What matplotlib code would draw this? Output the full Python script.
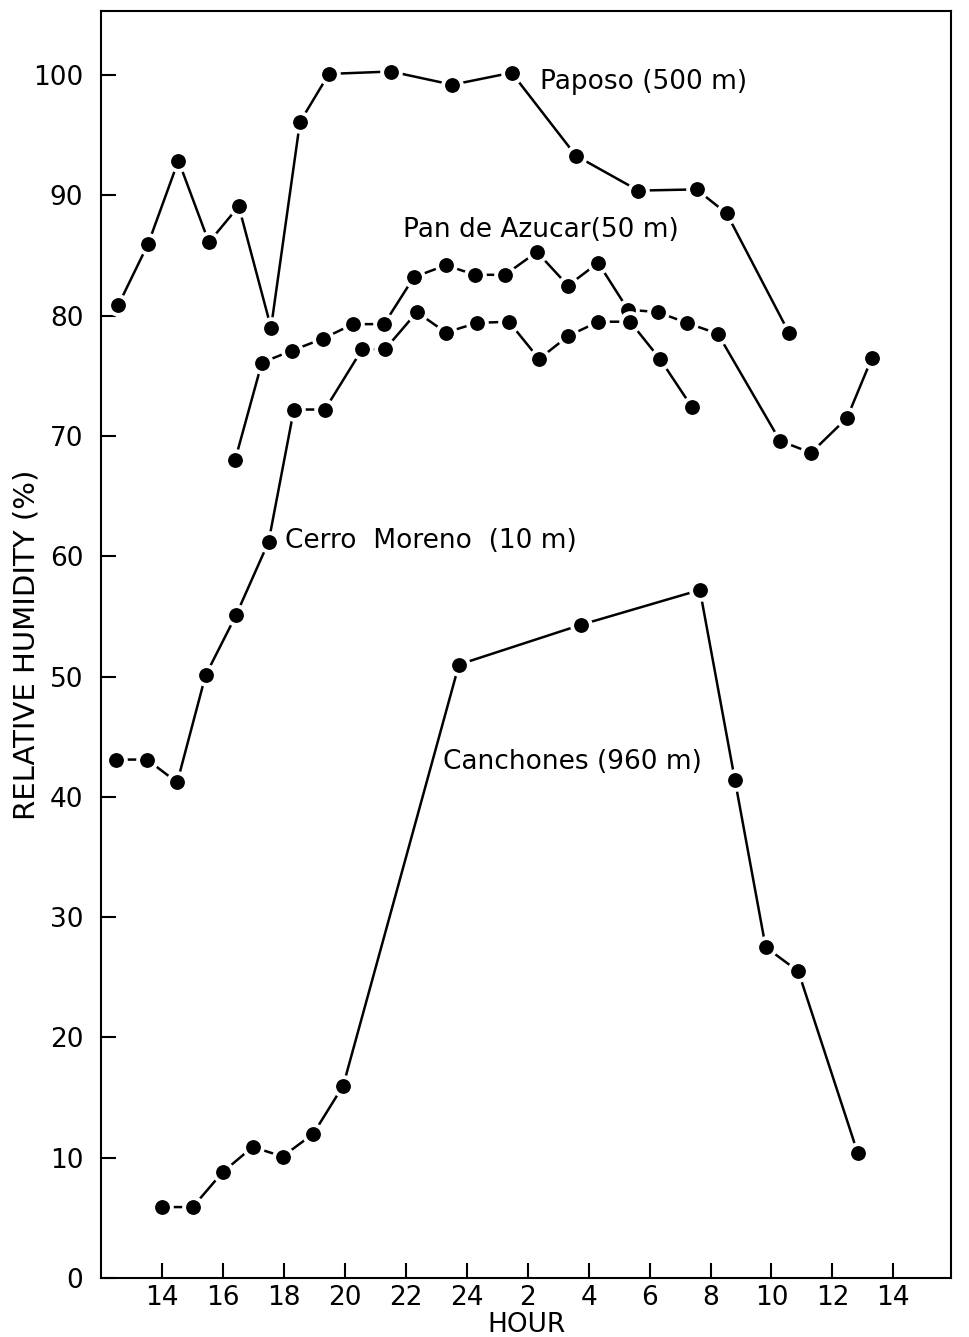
import matplotlib
matplotlib.use("Agg")
import matplotlib.pyplot as plt

# ── Data (hour counted continuously: 24 = midnight, 26 = 2 h next day) ──
paposo_hour = [12.56, 13.54, 14.53, 15.53, 16.51, 17.57, 18.52, 19.47, 21.51,
               23.52, 25.47, 27.58, 29.63, 31.54, 32.53, 34.57]
paposo_rh = [80.9, 86.0, 92.9, 86.1, 89.1, 79.0, 96.1, 100.1, 100.3,
             99.2, 100.2, 93.3, 90.4, 90.5, 88.5, 78.6]

pan_hour = [16.39, 17.27, 18.26, 19.28, 20.26, 21.28, 22.26, 23.31, 24.26, 25.25,
            26.30, 27.32, 28.31, 29.29, 30.27, 31.22, 32.24, 34.28, 35.30, 36.48, 37.30]
pan_rh = [68.0, 76.1, 77.1, 78.1, 79.3, 79.3, 83.2, 84.2, 83.4, 83.4,
          85.3, 82.5, 84.4, 80.5, 80.3, 79.4, 78.5, 69.6, 68.6, 71.5, 76.5]

cerro_hour = [12.47, 13.50, 14.49, 15.42, 16.42, 17.49, 18.32, 19.34, 20.56, 21.31,
              22.36, 23.31, 24.33, 25.38, 26.37, 27.32, 28.31, 29.36, 30.34, 31.39]
cerro_rh = [43.1, 43.1, 41.2, 50.1, 55.1, 61.2, 72.2, 72.2, 77.2, 77.2,
            80.3, 78.6, 79.4, 79.5, 76.4, 78.3, 79.5, 79.5, 76.4, 72.4]

canch_hour = [14.0, 15.0, 15.98, 16.97, 17.95, 18.96, 19.94, 23.74, 27.74,
              31.65, 32.80, 33.81, 34.88, 36.83]
canch_rh = [5.9, 5.9, 8.8, 10.9, 10.1, 12.0, 16.0, 51.0, 54.3,
            57.2, 41.4, 27.5, 25.5, 10.4]

tick_hours = [14, 16, 18, 20, 22, 24, 26, 28, 30, 32, 34, 36, 38]
tick_labels = ["14", "16", "18", "20", "22", "24", "2", "4", "6", "8", "10", "12", "14"]
rh_ticks = list(range(0, 101, 10))

plt.rcParams["font.family"] = ["DejaVu Sans"]

fig = plt.figure(figsize=(9.7, 13.37), dpi=100)
ax = fig.add_axes([0.1045, 0.0441, 0.8761, 0.9474])

series = [(paposo_hour, paposo_rh), (pan_hour, pan_rh),
          (cerro_hour, cerro_rh), (canch_hour, canch_rh)]
for hrs, rh in series:
    # white marker edge leaves the small gap between line and dot
    ax.plot(hrs, rh, color="black", linewidth=1.8, marker="o",
            markersize=13.5, markerfacecolor="black",
            markeredgecolor="white", markeredgewidth=2.8)

ax.set_xlim(12.0, 39.9)
ax.set_ylim(0, 105.3)

ax.set_xticks(tick_hours)
ax.set_xticklabels(tick_labels)
ax.set_yticks(rh_ticks)
ax.tick_params(direction="in", length=11, width=1.5, labelsize=19)
ax.tick_params(axis="x", pad=5)
ax.tick_params(axis="y", pad=13)
for s in ax.spines.values():
    s.set_linewidth(1.5)

# axis titles placed by hand so they stay inside the page
fig.text(0.027, 0.518, "RELATIVE HUMIDITY (%)", rotation=90,
         fontsize=21, ha="center", va="center")
fig.text(0.543, 0.0088, "HOUR", fontsize=19, ha="center", va="center")

lbl = dict(fontsize=19, ha="left", va="center")
ax.text(26.40, 99.4, "Paposo (500 m)", **lbl)
ax.text(21.90, 87.1, "Pan de Azucar(50 m)", **lbl)
ax.text(18.03, 61.3, "Cerro  Moreno  (10 m)", **lbl)
ax.text(23.21, 42.9, "Canchones (960 m)", **lbl)

fig.savefig("out.png", dpi=100)
